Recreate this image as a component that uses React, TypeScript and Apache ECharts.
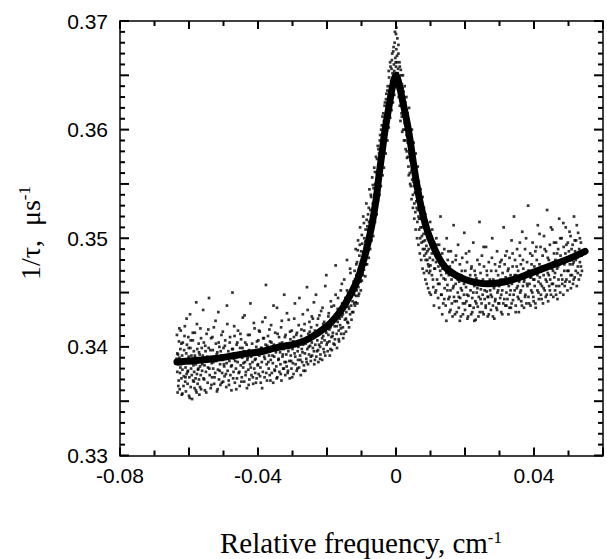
import React, { useEffect, useRef } from "react";
import * as echarts from "echarts";

// Units: x in 1e-4 cm^-1, y in 1e-4 µs^-1 (converted when building the option)
const fitCurve: number[][] = [
  [-635, 3386], [-530, 3389], [-450, 3393], [-385, 3396], [-350, 3399], [-288, 3403],
  [-250, 3408], [-200, 3419], [-173, 3428], [-150, 3438], [-115, 3459], [-100, 3473],
  [-86, 3489], [-70, 3512], [-57, 3537], [-50, 3556], [-40, 3580], [-33, 3597],
  [-20, 3622], [-10, 3640], [0, 3650], [10, 3640], [20, 3625], [30, 3610], [40, 3592],
  [50, 3570], [60, 3550], [70, 3533], [85, 3513], [100, 3499], [126, 3481], [150, 3471],
  [200, 3462], [267, 3458], [300, 3459], [350, 3463], [400, 3469], [450, 3475],
  [500, 3481], [548, 3488],
];

const dotsLeft: number[][] = [
  [-636,3389],[-635,3411],[-634,3377],[-633,3358],[-632,3393],[-631,3384],[-630,3369],[-629,3405],[-628,3390],[-627,3361],[-626,3376],[-625,3398],[-624,3415],[-623,3384],[-622,3371],
  [-621,3356],[-620,3392],[-619,3379],[-618,3404],[-617,3386],[-616,3364],[-615,3373],[-614,3397],[-613,3388],[-612,3419],[-611,3368],[-610,3381],[-609,3359],[-608,3394],[-607,3375],[-606,3402],[-605,3387],[-604,3366],[-603,3378],[-602,3409],
  [-601,3391],[-600,3355],[-599,3372],[-598,3385],[-597,3430],[-596,3399],[-595,3363],[-594,3380],[-593,3392],[-592,3374],[-591,3352],[-590,3388],[-589,3406],[-588,3369],[-587,3383],[-586,3396],[-585,3377],[-584,3362],[-583,3413],[-582,3390],
  [-581,3371],[-580,3384],[-579,3441],[-578,3358],[-577,3375],[-576,3398],[-575,3366],[-574,3389],[-573,3380],[-572,3403],[-571,3370],[-570,3356],[-569,3393],[-568,3382],[-567,3417],[-566,3374],[-565,3361],[-564,3387],[-563,3399],[-562,3378],
  [-560,3392],[-558,3371],[-557,3404],[-555,3383],[-554,3360],[-552,3396],[-551,3377],[-549,3412],[-548,3388],[-546,3367],[-545,3381],[-543,3399],[-542,3445],[-540,3374],[-539,3390],[-537,3362],[-536,3408],[-534,3385],[-533,3372],[-531,3397],
  [-530,3380],[-528,3418],[-527,3366],[-525,3391],[-524,3376],[-522,3403],[-521,3387],[-519,3359],[-518,3395],[-516,3379],[-515,3432],[-513,3370],[-512,3400],[-510,3384],[-509,3365],[-507,3392],[-506,3411],[-504,3376],[-503,3388],[-501,3368],
  [-500,3399],[-498,3382],[-497,3373],[-495,3406],[-494,3390],[-492,3363],[-491,3385],[-489,3421],[-488,3378],[-486,3396],[-485,3369],[-483,3387],[-482,3404],[-480,3374],[-479,3393],[-477,3360],[-476,3383],[-474,3450],[-473,3398],[-471,3377],
  [-470,3389],[-468,3410],[-467,3367],[-465,3394],[-464,3380],[-462,3402],[-461,3371],[-459,3386],[-458,3415],[-456,3376],[-455,3391],[-453,3364],[-452,3399],[-450,3383],[-449,3407],[-447,3372],[-446,3390],[-444,3427],[-443,3381],[-441,3396],
  [-440,3368],[-438,3386],[-437,3404],[-435,3377],[-434,3393],[-432,3362],[-431,3388],[-429,3411],[-428,3379],[-426,3397],[-425,3370],[-423,3384],[-422,3440],[-420,3391],[-419,3374],[-417,3403],[-416,3386],[-414,3366],[-413,3395],[-411,3380],
  [-410,3417],[-408,3376],[-407,3389],[-405,3400],[-404,3371],[-402,3393],[-401,3383],
  [-399,3406],[-398,3375],[-396,3392],[-395,3414],[-393,3381],[-392,3367],[-390,3399],[-389,3386],[-387,3423],[-386,3377],[-384,3395],[-383,3408],[-381,3372],[-380,3389],[-378,3402],[-377,3457],[-375,3384],[-374,3369],[-372,3397],[-371,3410],
  [-369,3380],[-368,3392],[-366,3374],[-365,3405],[-363,3388],[-362,3420],[-360,3376],[-359,3398],[-357,3385],[-356,3367],[-354,3402],[-353,3391],[-351,3378],[-350,3413],[-348,3395],[-347,3382],[-345,3436],[-344,3372],[-342,3400],[-341,3388],
  [-339,3409],[-338,3377],[-336,3395],[-335,3384],[-333,3418],[-332,3369],[-330,3404],[-329,3391],[-327,3380],[-326,3398],[-324,3448],[-323,3386],[-321,3374],[-320,3411],[-318,3393],[-317,3382],[-315,3403],[-314,3376],[-312,3396],[-311,3425],
  [-309,3387],[-308,3371],[-306,3407],[-305,3392],[-303,3380],[-302,3415],[-300,3398],[-299,3385],[-297,3375],[-296,3409],[-294,3394],[-293,3440],[-291,3384],[-290,3401],[-288,3378],[-287,3413],[-285,3396],[-284,3388],[-282,3420],[-281,3381],
  [-279,3404],[-278,3392],[-276,3374],[-275,3410],[-273,3398],[-272,3386],[-270,3430],[-269,3402],[-267,3383],[-266,3415],[-264,3394],[-263,3378],[-261,3407],[-260,3389],[-258,3455],[-257,3398],[-255,3384],[-254,3412],[-252,3393],[-251,3423],
  [-249,3401],[-247,3387],[-246,3418],[-244,3404],[-243,3392],[-241,3426],[-240,3410],[-238,3396],[-237,3384],[-235,3415],[-234,3402],[-232,3448],[-231,3391],[-229,3420],[-228,3406],[-226,3397],[-225,3386],[-223,3412],[-222,3429],[-220,3400],
  [-219,3393],[-217,3417],[-216,3404],[-214,3388],[-213,3436],[-211,3410],[-210,3398],[-208,3423],[-207,3406],[-205,3392],[-204,3415],[-202,3466],[-201,3402],[-199,3420],[-198,3396],[-196,3411],[-195,3431],[-193,3405],[-192,3392],[-190,3418],
  [-189,3442],[-187,3409],[-186,3397],[-184,3426],[-183,3413],[-181,3403],[-180,3438],[-178,3419],[-177,3407],[-175,3475],[-174,3430],[-172,3412],[-171,3399],[-169,3423],[-168,3445],[-166,3415],[-165,3405],[-163,3433],[-162,3420],[-160,3452],
  [-159,3412],[-157,3428],[-156,3440],[-154,3418],[-153,3408],[-151,3436],[-150,3462],[-148,3425],[-147,3445],[-145,3414],[-144,3432],[-142,3480],[-141,3423],[-139,3450],[-138,3437],[-136,3418],[-135,3444],[-133,3430],[-132,3468],[-130,3438],
  [-129,3425],[-127,3455],[-126,3442],[-124,3432],[-123,3460],[-121,3448],
];

const dotsPeak: number[][] = [
  [-120,3470],[-119,3438],[-118,3458],[-117,3490],[-116,3447],[-115,3466],[-114,3452],[-113,3478],[-112,3440],[-111,3463],[-110,3498],[-109,3455],[-108,3471],[-107,3449],[-106,3484],[-105,3462],[-104,3510],[-103,3470],[-102,3452],[-101,3488],
  [-100,3476],[-99,3461],[-98,3495],[-97,3480],[-96,3466],[-95,3520],[-94,3486],[-93,3471],[-92,3500],[-91,3478],[-90,3492],[-89,3465],[-88,3508],[-87,3484],[-86,3532],[-85,3496],[-84,3476],[-83,3511],[-82,3490],[-81,3522],
  [-80,3500],[-79,3482],[-78,3515],[-77,3545],[-76,3505],[-75,3490],[-74,3526],[-73,3510],[-72,3538],[-71,3498],[-70,3520],[-69,3556],[-68,3513],[-67,3532],[-66,3502],[-65,3546],[-64,3524],[-63,3565],[-62,3536],[-61,3515],
  [-60,3550],[-59,3530],[-58,3575],[-57,3542],[-56,3522],[-55,3560],[-54,3548],[-53,3585],[-52,3535],[-51,3566],[-50,3552],
  [-49,3578],[-48,3540],[-47,3562],[-46,3595],[-45,3570],[-44,3548],[-43,3585],[-42,3566],[-41,3604],[-40,3575],[-39,3558],[-38,3592],[-37,3615],[-36,3584],[-35,3565],[-34,3600],[-33,3588],[-32,3625],[-31,3596],[-30,3578],
  [-29,3612],[-28,3633],[-27,3598],[-26,3618],[-25,3590],[-24,3640],[-23,3610],[-22,3626],[-21,3602],[-20,3648],[-19,3620],[-18,3634],[-17,3611],[-16,3658],[-15,3628],[-14,3645],[-13,3618],[-12,3664],[-11,3636],[-10,3652],
  [-9,3625],[-8,3672],[-7,3644],[-6,3660],[-5,3632],[-4,3680],[-3,3650],[-2,3666],[-1,3640],[0,3688],[0,3658],[1,3674],[2,3646],[3,3662],[4,3684],[5,3638],[6,3656],[7,3670],[8,3630],[9,3648],
  [10,3662],[11,3622],[12,3645],[13,3608],[14,3655],[15,3630],[16,3615],[17,3642],[18,3598],[19,3628],[20,3650],[21,3612],[22,3635],[23,3590],[24,3618],[25,3640],[26,3600],[27,3625],[28,3582],[29,3608],
  [30,3630],[31,3595],[32,3574],[33,3615],[34,3588],[35,3602],[36,3566],[37,3594],[38,3620],[39,3578],[40,3560],[41,3596],[42,3572],[43,3548],[44,3585],[45,3562],[46,3600],[47,3554],[48,3576],[49,3540],
  [50,3565],[51,3588],[52,3548],[53,3532],[54,3570],[55,3555],[56,3524],[57,3578],[58,3542],[59,3560],[60,3528],[61,3548],[62,3515],[63,3566],[64,3537],[65,3520],[66,3552],[67,3508],[68,3540],[69,3526],
  [70,3500],[71,3545],[72,3518],[73,3530],[74,3496],[75,3524],[76,3510],[77,3538],[78,3490],[79,3516],[80,3504],[81,3528],[82,3484],[83,3512],[84,3498],[85,3522],[86,3480],[87,3505],[88,3493],[89,3470],
  [90,3514],[91,3488],[92,3500],[93,3476],[94,3508],[95,3490],[96,3468],[97,3497],[98,3482],[99,3515],[100,3475],
];

const dotsRight: number[][] = [
  [102,3492],[104,3466],[105,3508],[107,3480],[108,3455],[110,3496],[111,3472],[113,3486],[114,3450],[116,3478],[117,3500],[119,3462],[120,3488],[122,3445],[123,3474],[125,3494],[126,3458],[128,3482],[129,3520],[131,3466],
  [132,3448],[134,3486],[135,3472],[137,3440],[138,3463],[140,3490],[141,3454],[143,3476],[144,3438],[146,3468],[147,3500],[149,3457],[150,3480],[152,3444],[153,3466],[155,3432],[156,3474],[158,3452],[159,3488],[161,3462],
  [162,3440],[164,3478],[165,3454],[167,3512],[168,3446],[170,3468],[171,3430],[173,3458],[174,3484],[176,3442],[177,3465],[179,3450],[180,3494],[182,3436],[183,3460],[185,3476],[186,3445],[188,3428],[189,3466],[191,3452],
  [192,3482],[194,3440],[195,3462],[197,3448],[198,3505],[200,3434],[201,3470],[203,3455],[204,3442],[206,3478],[207,3426],[209,3460],[210,3447],[212,3488],[213,3438],[215,3466],[216,3452],[218,3430],[219,3474],[221,3445],
  [222,3461],[224,3496],[225,3436],[227,3456],[228,3470],[230,3442],[231,3425],[233,3463],[234,3450],[236,3480],[237,3437],[239,3458],[240,3446],[242,3515],[243,3432],[245,3468],[246,3453],[248,3440],[249,3484],[251,3448],
  [252,3462],[254,3430],[255,3474],[257,3444],[258,3457],[260,3436],[261,3492],[263,3451],[264,3466],[266,3428],[267,3446],[269,3478],[270,3440],[272,3460],[273,3452],[275,3434],[276,3470],[278,3446],[279,3500],[281,3438],
  [282,3462],[284,3454],[285,3426],[287,3476],[288,3444],[290,3458],[291,3436],[293,3488],[294,3450],[296,3466],[297,3440],[299,3456],[300,3474],
  [302,3445],[303,3462],[305,3432],[306,3480],[308,3452],[309,3468],[311,3440],[312,3510],[314,3458],[315,3476],[317,3438],[318,3464],[320,3450],[321,3488],[323,3444],[324,3470],[326,3430],[327,3456],[329,3482],[330,3448],
  [332,3466],[333,3436],[335,3498],[336,3458],[338,3474],[339,3443],[341,3462],[342,3520],[344,3452],[345,3480],[347,3438],[348,3466],[350,3454],[351,3490],[353,3446],[354,3470],[356,3432],[357,3460],[359,3484],[360,3450],
  [362,3476],[363,3442],[365,3464],[366,3506],[368,3456],[369,3472],[371,3436],[372,3462],[374,3490],[375,3448],[377,3468],[378,3440],[380,3478],[381,3456],[383,3530],[384,3446],[386,3470],[387,3458],[389,3486],[390,3438],
  [392,3464],[393,3476],[395,3450],[396,3496],[398,3462],[399,3442],[401,3474],[402,3456],[404,3488],[405,3436],[407,3468],[408,3480],[410,3452],[411,3512],[413,3460],[414,3444],[416,3476],[417,3464],[419,3492],[420,3448],
  [422,3470],[423,3456],[425,3484],[426,3440],[428,3466],[429,3502],[431,3452],[432,3474],[434,3446],[435,3488],[437,3460],[438,3526],[440,3468],[441,3442],[443,3480],[444,3456],[446,3494],[447,3462],[449,3448],[450,3476],
  [452,3458],[453,3508],[455,3470],[456,3446],[458,3486],[459,3464],[461,3452],[462,3480],[464,3496],[465,3456],[467,3472],[468,3444],[470,3490],[471,3462],[473,3518],[474,3476],[476,3450],[477,3484],[479,3466],[480,3500],
  [482,3458],[483,3478],[485,3448],[486,3492],[488,3470],[489,3456],[491,3486],[492,3510],[494,3462],[495,3480],[497,3452],[498,3496],[500,3470],[501,3488],[503,3460],[504,3476],[506,3502],[507,3454],[509,3484],[510,3466],
  [512,3494],[513,3458],[515,3478],[516,3520],[518,3464],[519,3488],[521,3470],[522,3498],[524,3456],[525,3482],[527,3474],[528,3505],[530,3462],[531,3490],[533,3478],[535,3466],[536,3496],[538,3484],[539,3470],
];

const dotsExtra: number[][] = [
  [-634,3394],[-631,3364],[-628,3417],[-625,3381],[-622,3403],[-619,3357],[-616,3388],[-613,3410],[-610,3372],[-607,3426],[-604,3377],[-601,3399],[-598,3353],[-595,3406],[-592,3385],[-589,3413],[-586,3368],[-583,3392],[-580,3360],[-577,3421],
  [-574,3379],[-571,3395],[-568,3363],[-565,3408],[-562,3384],[-559,3434],[-556,3370],[-553,3401],[-550,3358],[-547,3391],[-544,3416],[-541,3380],[-538,3397],[-535,3365],[-532,3409],[-529,3386],[-526,3372],[-523,3424],[-520,3393],[-517,3361],
  [-514,3404],[-511,3378],[-508,3396],[-505,3367],[-502,3414],[-499,3384],[-496,3401],[-493,3375],[-490,3438],[-487,3390],[-484,3365],[-481,3409],[-478,3382],[-475,3398],[-472,3371],[-469,3419],[-466,3387],[-463,3361],[-460,3404],[-457,3393],
  [-454,3377],[-451,3412],[-448,3368],[-445,3399],[-442,3385],[-439,3429],[-436,3374],[-433,3402],[-430,3390],[-427,3365],[-424,3411],[-421,3381],[-418,3396],[-415,3372],[-412,3422],[-409,3388],[-406,3367],[-403,3405],[-400,3384],[-397,3415],
  [-394,3373],[-391,3399],[-388,3362],[-385,3408],[-382,3391],[-379,3427],[-376,3376],[-373,3401],[-370,3386],[-367,3416],[-364,3369],[-361,3404],[-358,3392],[-355,3438],[-352,3379],[-349,3397],[-346,3371],[-343,3412],[-340,3389],[-337,3403],
  [-334,3375],[-331,3424],[-328,3393],[-325,3380],[-322,3409],[-319,3386],[-316,3431],[-313,3378],[-310,3399],[-307,3414],[-304,3387],[-301,3372],[-298,3405],[-295,3426],[-292,3391],[-289,3411],[-286,3380],[-283,3400],[-280,3445],[-277,3388],
  [-274,3416],[-271,3395],[-268,3378],[-265,3421],[-262,3403],[-259,3386],[-256,3434],[-253,3400],[-250,3414],[-247,3391],[-244,3428],[-241,3399],[-238,3441],[-235,3388],[-232,3411],[-229,3396],[-226,3426],[-223,3402],[-220,3389],[-217,3433],
  [-214,3408],[-211,3421],[-208,3395],[-205,3456],[-202,3413],[-199,3404],[-196,3428],[-193,3416],[-190,3398],[-187,3437],[-184,3410],[-181,3424],[-178,3402],[-175,3448],[-172,3419],[-169,3435],[-166,3407],[-163,3426],[-160,3417],[-157,3458],
  [-154,3430],[-151,3412],[-148,3440],[-145,3426],[-142,3452],[-139,3422],[-136,3435],[-133,3472],[-130,3446],[-127,3432],[-124,3454],[-121,3440],
  [-119,3462],[-117,3441],[-115,3476],[-113,3458],[-111,3489],[-109,3447],[-107,3466],[-105,3494],[-103,3460],[-101,3479],[-99,3503],[-97,3468],[-95,3487],[-93,3514],[-91,3483],[-89,3497],[-87,3476],[-85,3517],[-83,3493],[-81,3508],
  [-79,3528],[-77,3497],[-75,3516],[-73,3540],[-71,3508],[-69,3527],[-67,3549],[-65,3518],[-63,3540],[-61,3561],[-59,3525],[-57,3551],[-55,3573],[-53,3547],[-51,3582],[-49,3560],[-47,3590],[-45,3555],[-43,3600],[-41,3580],
  [-39,3612],[-37,3590],[-35,3608],[-33,3622],[-31,3605],[-29,3628],[-27,3614],[-25,3636],[-23,3620],[-21,3654],[-19,3632],[-17,3662],[-15,3640],[-13,3656],[-11,3670],[-9,3648],[-7,3676],[-5,3654],[-3,3690],[-1,3662],
  [1,3694],[3,3668],[5,3652],[7,3678],[9,3640],[11,3658],[13,3630],[15,3650],[17,3612],[19,3638],[21,3600],[23,3628],[25,3606],[27,3590],[29,3618],[31,3580],[33,3602],[35,3575],[37,3558],[39,3590],
  [41,3550],[43,3572],[45,3536],[47,3565],[49,3528],[51,3552],[53,3518],[55,3542],[57,3508],[59,3534],[61,3500],[63,3526],[65,3494],[67,3518],[69,3486],[71,3510],[73,3480],[75,3502],[77,3472],[79,3497],
  [81,3468],[83,3490],[85,3462],[87,3486],[89,3458],[91,3480],[93,3454],[95,3474],[97,3450],[99,3470],
  [101,3448],[104,3486],[107,3462],[110,3438],[113,3472],[116,3452],[119,3494],[122,3458],[125,3436],[128,3470],[131,3448],[134,3430],[137,3476],[140,3444],[143,3462],[146,3424],[149,3452],[152,3488],[155,3446],[158,3434],
  [161,3470],[164,3428],[167,3456],[170,3442],[173,3480],[176,3432],[179,3462],[182,3446],[185,3424],[188,3454],[191,3470],[194,3430],[197,3458],[200,3440],[203,3486],[206,3448],[209,3428],[212,3460],[215,3438],[218,3472],
  [221,3432],[224,3450],[227,3424],[230,3466],[233,3440],[236,3454],[239,3428],[242,3476],[245,3444],[248,3460],[251,3432],[254,3492],[257,3452],[260,3438],[263,3470],[266,3446],[269,3430],[272,3462],[275,3448],[278,3482],
  [281,3428],[284,3456],[287,3442],[290,3470],[293,3434],[296,3452],[299,3440],[302,3478],[305,3448],[308,3430],[311,3462],[314,3444],[317,3484],[320,3438],[323,3458],[326,3472],[329,3436],[332,3452],[335,3440],[338,3486],
  [341,3448],[344,3466],[347,3432],[350,3474],[353,3456],[356,3444],[359,3496],[362,3452],[365,3438],[368,3480],[371,3460],[374,3446],[377,3500],[380,3458],[383,3470],[386,3440],[389,3464],[392,3452],[395,3484],[398,3446],
  [401,3462],[404,3440],[407,3492],[410,3466],[413,3450],[416,3504],[419,3458],[422,3444],[425,3474],[428,3454],[431,3490],[434,3462],[437,3448],[440,3482],[443,3466],[446,3452],[449,3510],[452,3472],[455,3458],[458,3496],
  [461,3468],[464,3448],[467,3486],[470,3474],[473,3456],[476,3500],[479,3478],[482,3462],[485,3514],[488,3476],[491,3460],[494,3494],[497,3470],[500,3482],[503,3506],[506,3466],[509,3490],[512,3476],[515,3462],[518,3498],
  [521,3480],[524,3512],[527,3468],[530,3486],[533,3500],[536,3474],
];

const xTickLabels = ["-0.08", "-0.04", "0", "0.04"];
const yTickLabels = ["0.33", "0.34", "0.35", "0.36", "0.37"];
const xTickValues = [-0.08, -0.07, -0.06, -0.05, -0.04, -0.03, -0.02, -0.01, 0, 0.01, 0.02, 0.03, 0.04, 0.05, 0.06];
const yTickValues = [
  0.330, 0.331, 0.332, 0.333, 0.334, 0.335, 0.336, 0.337, 0.338, 0.339,
  0.340, 0.341, 0.342, 0.343, 0.344, 0.345, 0.346, 0.347, 0.348, 0.349,
  0.350, 0.351, 0.352, 0.353, 0.354, 0.355, 0.356, 0.357, 0.358, 0.359,
  0.360, 0.361, 0.362, 0.363, 0.364, 0.365, 0.366, 0.367, 0.368, 0.369, 0.370,
];

const X_MIN = -0.08, X_MAX = 0.06, Y_MIN = 0.33, Y_MAX = 0.37;
const SCALE = 1e4;
const toData = (arr: number[][]) => arr.map(([x, y]) => [x / SCALE, y / SCALE]);

const serif = "'Liberation Serif', 'Times New Roman', serif";
const sans = "'Liberation Sans', Arial, sans-serif";

export default function App() {
  const ref = useRef<HTMLDivElement>(null);
  useEffect(() => {
    if (!ref.current) return;
    const chart = echarts.init(ref.current, undefined, { renderer: "svg" });
    const xFmt = (v: number) => {
      const s = Math.abs(v) < 1e-9 ? "0" : v.toFixed(2);
      return xTickLabels.includes(s) ? s : "";
    };
    const yFmt = (v: number) => {
      const s = v.toFixed(2);
      return Math.abs(v * 100 - Math.round(v * 100)) < 1e-6 && yTickLabels.includes(s) ? s : "";
    };
    const axisLine = () => ({ show: true, onZero: false, lineStyle: { color: "#000", width: 1.5 } });
    const xBase = () => ({
      type: "value" as const,
      min: X_MIN,
      max: X_MAX,
      interval: 0.02,
      axisLine: axisLine(),
      axisTick: { show: false },
      splitLine: { show: false },
    });
    const yBase = () => ({
      type: "value" as const,
      min: Y_MIN,
      max: Y_MAX,
      interval: 0.005,
      axisLine: axisLine(),
      axisTick: { show: false },
      splitLine: { show: false },
    });
    const tickLine = (x1: number, y1: number, x2: number, y2: number) => ({
      type: "line",
      shape: { x1, y1, x2, y2 },
      style: { stroke: "#000", lineWidth: 2, fill: null },
    });
    chart.setOption({
      animation: false,
      backgroundColor: "#fff",
      grid: { left: 120, right: 4, top: 21, bottom: 103.5, containLabel: false },
      xAxis: [
        {
          ...xBase(),
          position: "bottom",
          axisLabel: { formatter: xFmt, fontSize: 21, fontFamily: sans, color: "#000", margin: 9 },
        },
        { ...xBase(), position: "top", axisLabel: { show: false } },
      ],
      yAxis: [
        {
          ...yBase(),
          position: "left",
          axisLabel: { formatter: yFmt, fontSize: 21, fontFamily: sans, color: "#000", margin: 12 },
        },
        { ...yBase(), position: "right", axisLabel: { show: false } },
      ],
      graphic: [
        {
          type: "text",
          x: 361,
          y: 543,
          style: {
            text: "{a|Relative frequency, cm}{s|-1}",
            textAlign: "center",
            textVerticalAlign: "middle",
            fill: "#000",
            rich: {
              a: { fontFamily: serif, fontSize: 29, fill: "#000", verticalAlign: "bottom" },
              s: { fontFamily: serif, fontSize: 17, fill: "#000", verticalAlign: "top" },
            },
          },
        },
        {
          type: "text",
          x: 30,
          y: 233,
          rotation: Math.PI / 2,
          style: {
            text: "{a|1/τ,  μs}{s|-1}",
            textAlign: "center",
            textVerticalAlign: "middle",
            fill: "#000",
            rich: {
              a: { fontFamily: serif, fontSize: 28, fill: "#000", verticalAlign: "bottom" },
              s: { fontFamily: serif, fontSize: 17, fill: "#000", verticalAlign: "top" },
            },
          },
        },
      ],
      series: [
        {
          type: "scatter",
          xAxisIndex: 0,
          yAxisIndex: 0,
          symbol: "rect",
          symbolSize: 2.7,
          itemStyle: { color: "#000" },
          data: toData([...dotsLeft, ...dotsPeak, ...dotsRight, ...dotsExtra]),
          silent: true,
        },
        {
          type: "line",
          xAxisIndex: 0,
          yAxisIndex: 0,
          showSymbol: false,
          smooth: 0.3,
          lineStyle: { color: "#000", width: 7, cap: "round", join: "round" },
          data: toData(fitCurve),
          silent: true,
          z: 3,
        },
        {
          // x-axis ticks (bottom and top, pointing inward)
          type: "custom",
          xAxisIndex: 0,
          yAxisIndex: 0,
          clip: false,
          silent: true,
          z: 10,
          data: xTickValues.map((v) => [v, Y_MIN]),
          renderItem: (_p: any, api: any) => {
            const v = api.value(0);
            const major = Math.abs(Math.round(v * 100)) % 2 === 0;
            const len = major ? 8 : 5;
            const b = api.coord([v, Y_MIN]);
            const t = api.coord([v, Y_MAX]);
            return {
              type: "group",
              children: [tickLine(b[0], b[1], b[0], b[1] - len), tickLine(t[0], t[1], t[0], t[1] + len)],
            };
          },
        },
        {
          // y-axis ticks (left and right, pointing inward)
          type: "custom",
          xAxisIndex: 0,
          yAxisIndex: 0,
          clip: false,
          silent: true,
          z: 10,
          data: yTickValues.map((v) => [X_MIN, v]),
          renderItem: (_p: any, api: any) => {
            const v = api.value(1);
            const major = Math.round(v * 1000) % 5 === 0;
            const len = major ? 9 : 5;
            const l = api.coord([X_MIN, v]);
            const r = api.coord([X_MAX, v]);
            return {
              type: "group",
              children: [tickLine(l[0], l[1], l[0] + len, l[1]), tickLine(r[0], r[1], r[0] - len, r[1])],
            };
          },
        },
      ],
    });
    return () => chart.dispose();
  }, []);
  return <div ref={ref} style={{ width: 607, height: 559, position: "absolute", left: 0, top: 0 }} />;
}
